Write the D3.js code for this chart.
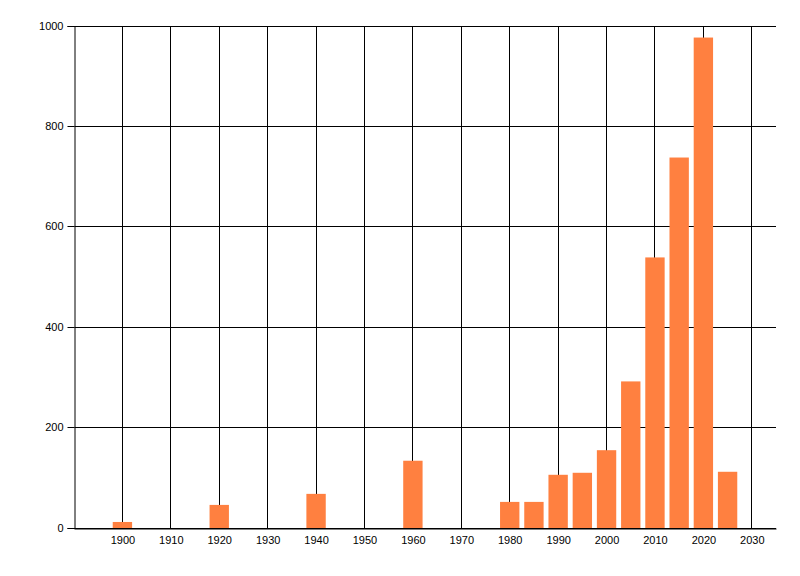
<!DOCTYPE html>
<html><head><meta charset="utf-8">
<script src="https://cdn.jsdelivr.net/npm/d3@7"></script>
<style>body{margin:0;background:#fff}svg{display:block}text{font-family:"Liberation Sans",Arial,sans-serif;font-size:11px;fill:#000}</style>
</head><body><svg id="c" width="800" height="576"></svg>
<script>
const years = [1900,1920,1940,1960,1980,1985,1990,1995,2000,2005,2010,2015,2020,2025];
const values = [12,46,68,134,52,52,106,110,155,292,539,738,977,112];
const xTicks = [1900,1910,1920,1930,1940,1950,1960,1970,1980,1990,2000,2010,2020,2030];
const yTicks = [0,200,400,600,800,1000];

const svg = d3.select("#c");
const x = d3.scaleLinear().domain([1890,2035]).range([74,776]);
const y = d3.scaleLinear().domain([0,1000]).range([528,26]);
const barW = x(1904)-x(1900);
const px = v => Math.floor(v)+0.5;

// vertical grid
svg.append("g").selectAll("line").data(xTicks).join("line")
  .attr("x1",d=>px(x(d))).attr("x2",d=>px(x(d)))
  .attr("y1",px(y(1000))).attr("y2",px(y(0))).attr("stroke","#000");
// horizontal grid
svg.append("g").selectAll("line").data(yTicks).join("line")
  .attr("x1",px(x(1890))).attr("x2",x(2035))
  .attr("y1",d=>px(y(d))).attr("y2",d=>px(y(d))).attr("stroke","#000");

// bars
svg.append("g").selectAll("rect").data(years).join("rect")
  .attr("x",(d)=>x(d)-barW/2).attr("width",barW)
  .attr("y",(d,i)=>y(values[i])).attr("height",(d,i)=>y(0)-y(values[i]))
  .attr("fill","#FF8040");

// y axis
const ya = svg.append("g").attr("transform",`translate(${px(x(1890))},0)`)
  .call(d3.axisLeft(y).tickValues(yTicks).tickSize(7).tickPadding(4).tickFormat(d3.format("d")));
ya.select(".domain").attr("stroke","#000");
ya.selectAll(".tick").attr("transform",d=>`translate(0,${px(y(d))})`);
ya.selectAll(".tick line").attr("stroke","#000");
ya.selectAll("text").style("font-family","'Liberation Sans',Arial,sans-serif").style("font-size","11px").attr("fill","#000");

// x axis
const xa = svg.append("g").attr("transform",`translate(0,${px(y(0))})`)
  .call(d3.axisBottom(x).tickValues(xTicks).tickSize(0).tickPadding(8).tickFormat(d3.format("d")));
xa.select(".domain").attr("stroke","#000");
xa.selectAll("text").style("font-family","'Liberation Sans',Arial,sans-serif").style("font-size","11px").attr("fill","#000");
</script></body></html>
